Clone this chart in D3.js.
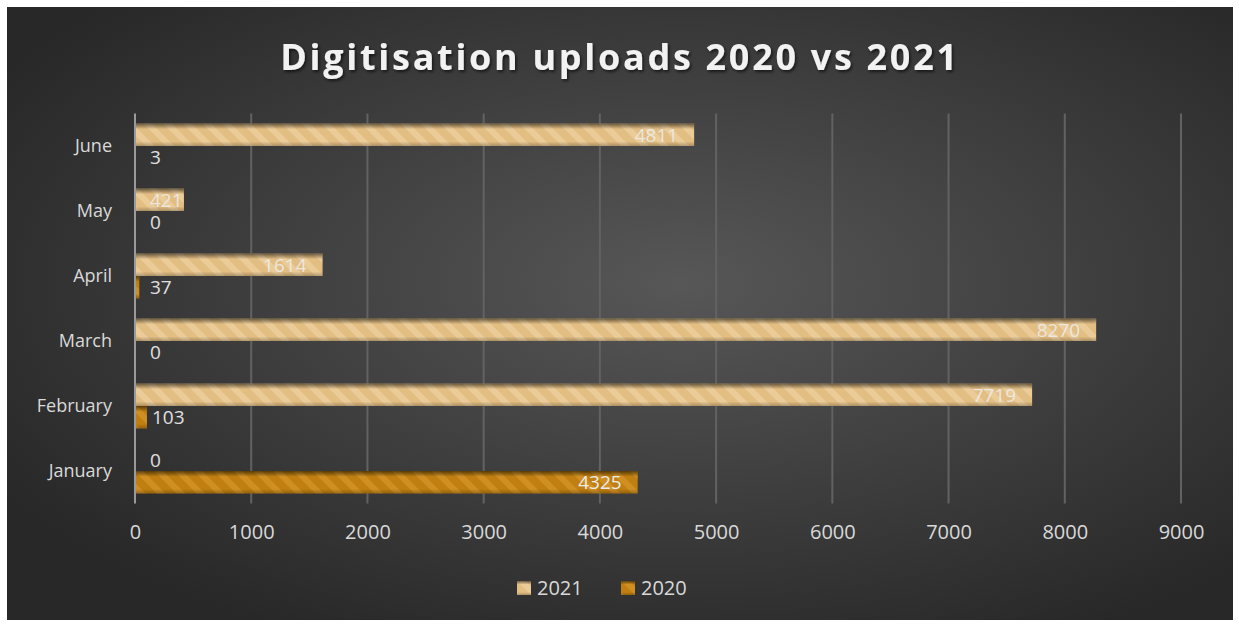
<!DOCTYPE html>
<html>
  <head>
    <meta charset="utf-8" />
    <title>Digitisation uploads 2020 vs 2021</title>
    <script src="https://d3js.org/d3.v7.min.js"></script>
    <style>
      body { margin: 0; background: #fff; }
      text { font-family: "Open Sans", sans-serif; }
      .tick text { fill: #d9d9d9; }
    </style>
  </head>
  <body>
    <svg id="chart"></svg>
    <script>
      // Chart data
      const months = ['June', 'May', 'April', 'March', 'February', 'January'];
      const series = ['2021', '2020'];
      const values2021 = [4811, 421, 1614, 8270, 7719, 0];
      const values2020 = [3, 0, 37, 0, 103, 4325];
      const xTicks = [0, 1000, 2000, 3000, 4000, 5000, 6000, 7000, 8000, 9000];

      const width = 1239, height = 624;
      const plot = { left: 135, right: 1181, top: 113.5, bottom: 503.5 };
      const colors = { '2021': '#e3be83', '2020': '#c07f10' };

      const svg = d3.select('#chart').attr('width', width).attr('height', height);
      const defs = svg.append('defs');

      // background
      const bg = defs.append('radialGradient').attr('id', 'bg')
        .attr('cx', '0.55').attr('cy', '0.45').attr('r', '0.65');
      bg.append('stop').attr('offset', '0%').attr('stop-color', '#575757');
      bg.append('stop').attr('offset', '100%').attr('stop-color', '#282828');
      svg.append('rect').attr('x', 7).attr('y', 7).attr('width', 1226).attr('height', 613)
        .attr('fill', 'url(#bg)');

      // striped fills
      series.forEach(s => {
        const p = defs.append('pattern').attr('id', 'stripe' + s)
          .attr('patternUnits', 'userSpaceOnUse').attr('width', 14).attr('height', 14)
          .attr('patternTransform', 'rotate(-45)');
        p.append('rect').attr('width', 14).attr('height', 14).attr('fill', colors[s]);
        p.append('rect').attr('width', 6).attr('height', 14)
          .attr('fill', s === '2021' ? '#f0d6a8' : '#d89a30').attr('opacity', 0.6);
      });
      const shade = defs.append('linearGradient').attr('id', 'shade')
        .attr('x1', 0).attr('y1', 0).attr('x2', 0).attr('y2', 1);
      [[0, 0.55], [0.25, 0], [0.8, 0], [1, 0.25]].forEach(([o, a]) =>
        shade.append('stop').attr('offset', o).attr('stop-color', '#000').attr('stop-opacity', a));

      // scales
      const x = d3.scaleLinear().domain([0, 9000]).range([plot.left, plot.right]);
      const y = d3.scaleBand().domain(months).range([plot.top, plot.bottom]);
      const ys = d3.scaleBand().domain(series).range([10, y.bandwidth() - 10]);

      // gridlines
      svg.append('g').selectAll('line').data(xTicks.slice(1)).join('line')
        .attr('x1', d => x(d)).attr('x2', d => x(d))
        .attr('y1', plot.top).attr('y2', plot.bottom)
        .attr('stroke', '#626262').attr('stroke-width', 2);

      // x axis labels
      const xAxis = svg.append('g').attr('transform', `translate(0,${plot.bottom})`)
        .call(d3.axisBottom(x).tickValues(xTicks).tickSize(0).tickPadding(21).tickFormat(d3.format('d')));
      xAxis.select('.domain').remove();
      xAxis.selectAll('.tick text').attr('font-size', 20);

      // y axis
      const yAxis = svg.append('g').attr('transform', `translate(${plot.left},0)`)
        .call(d3.axisLeft(y).tickSize(0).tickPadding(23));
      yAxis.select('.domain').remove();
      yAxis.selectAll('.tick text').attr('font-size', 18);

      // bars
      const rows = months.map((m, i) => ({ month: m, '2021': values2021[i], '2020': values2020[i] }));
      const bars = [];
      rows.forEach(r => series.forEach(s => bars.push({ month: r.month, series: s, value: r[s] })));

      const g = svg.append('g');
      const bar = g.selectAll('g.bar').data(bars.filter(d => d.value > 0)).join('g').attr('class', 'bar');
      bar.append('rect')
        .attr('x', x(0)).attr('y', d => y(d.month) + ys(d.series))
        .attr('width', d => x(d.value) - x(0)).attr('height', ys.bandwidth())
        .attr('fill', d => 'url(#stripe' + d.series + ')');
      bar.append('rect')
        .attr('x', x(0)).attr('y', d => y(d.month) + ys(d.series))
        .attr('width', d => x(d.value) - x(0)).attr('height', ys.bandwidth())
        .attr('fill', 'url(#shade)');

      // axis line
      svg.append('line').attr('x1', x(0)).attr('x2', x(0))
        .attr('y1', plot.top).attr('y2', plot.bottom)
        .attr('stroke', '#9a9a9a').attr('stroke-width', 2);

      // data labels: 2021 and wide bars inside end, small 2020 bars outside end
      g.selectAll('text.lbl').data(bars).join('text').attr('class', 'lbl')
        .attr('y', d => y(d.month) + ys(d.series) + ys.bandwidth() / 2)
        .attr('dy', '0.36em').attr('font-size', 19)
        .text(d => d.value)
        .each(function (d) {
          const inside = d.series === '2021' ? d.value > 0 : x(d.value) - x(0) > 60;
          const tw = this.getComputedTextLength();
          const sel = d3.select(this);
          if (inside) {
            sel.attr('x', Math.max(x(d.value) - 16, x(0) + 15 + tw)).attr('text-anchor', 'end')
              .attr('fill', '#ececec').attr('fill-opacity', d.series === '2021' ? 0.88 : 1);
          } else {
            sel.attr('x', Math.max(x(d.value) + 5, x(0) + 15)).attr('text-anchor', 'start')
              .attr('fill', '#e0e0e0');
          }
        });

      // title
      defs.append('filter').attr('id', 'shadow')
        .append('feDropShadow').attr('dx', 1.5).attr('dy', 2).attr('stdDeviation', 1.5)
        .attr('flood-color', '#000').attr('flood-opacity', 0.6);
      svg.append('text').attr('x', 620).attr('y', 70).attr('text-anchor', 'middle')
        .attr('font-size', 36).attr('font-weight', 'bold').attr('letter-spacing', 2.7)
        .attr('fill', '#f2f2f2').attr('filter', 'url(#shadow)')
        .text('Digitisation uploads 2020 vs 2021');

      // legend
      const legend = svg.append('g').attr('transform', 'translate(517,581)');
      const lg = legend.selectAll('g').data(series).join('g')
        .attr('transform', (d, i) => `translate(${i * 104},0)`);
      lg.append('rect').attr('width', 14).attr('height', 14)
        .attr('fill', d => 'url(#stripe' + d + ')');
      lg.append('rect').attr('width', 14).attr('height', 14).attr('fill', 'url(#shade)');
      lg.append('text').attr('x', 20).attr('y', 7).attr('dy', '0.36em')
        .attr('font-size', 20).attr('fill', '#d9d9d9').text(d => d);
    </script>
  </body>
</html>
